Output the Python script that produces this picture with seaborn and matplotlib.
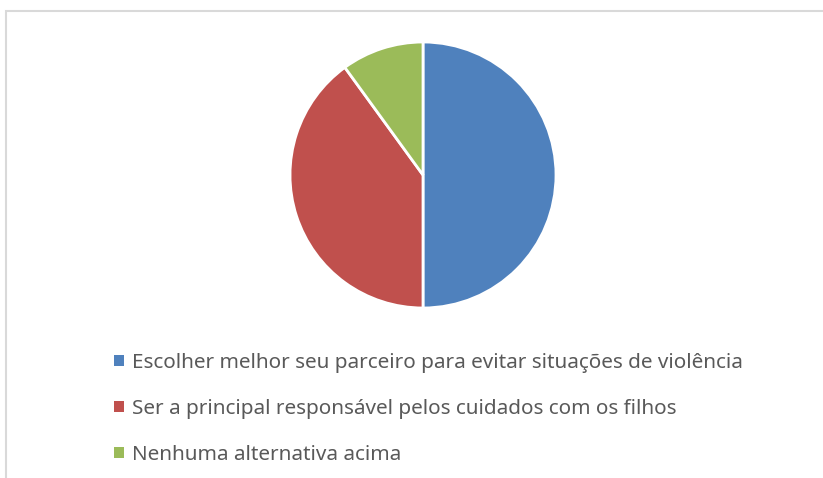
import matplotlib
matplotlib.use("Agg")
import matplotlib.pyplot as plt
import seaborn as sns
from matplotlib.patches import Rectangle

labels = ["Escolher melhor seu parceiro para evitar situações de violência",
          "Ser a principal responsável pelos cuidados com os filhos",
          "Nenhuma alternativa acima"]
values = [50, 40, 10]
colors = ["#4f81bd", "#c0504d", "#9bbb59"]

sns.set_theme(style="white")
plt.rcParams['font.family'] = ['Noto Sans', 'DejaVu Sans']

W, H = 823, 478
fig = plt.figure(figsize=(W / 100, H / 100), dpi=100)

# chart frame (only top and left edges visible in the crop)
fig.patches.append(Rectangle((6 / W, -0.1), 1.2, (H - 11) / H + 0.1,
                             transform=fig.transFigure, fill=False,
                             edgecolor="#d9d9d9", linewidth=1.5))

cx, cy, r = 423, 175, 133
ax = fig.add_axes([(cx - r) / W, (H - cy - r) / H, 2 * r / W, 2 * r / H])
wedges, _ = ax.pie(values, colors=sns.color_palette(colors), startangle=90,
                   counterclock=False, radius=1,
                   wedgeprops=dict(edgecolor="white", linewidth=2))
ax.set_xlim(-1.0, 1.0)
ax.set_ylim(-1.0, 1.0)
ax.set_aspect("equal")
ax.axis("off")

leg = fig.legend(wedges, labels, loc="upper left",
                 bbox_to_anchor=(106 / W, 1 - 345 / H),
                 frameon=False, fontsize=14.9, labelcolor="#595959",
                 handlelength=0.45, handleheight=0.45, handletextpad=0.4,
                 labelspacing=1.24, borderaxespad=0)
for h in leg.legend_handles:
    h.set_edgecolor("none")

fig.savefig("out.png", dpi=100)
